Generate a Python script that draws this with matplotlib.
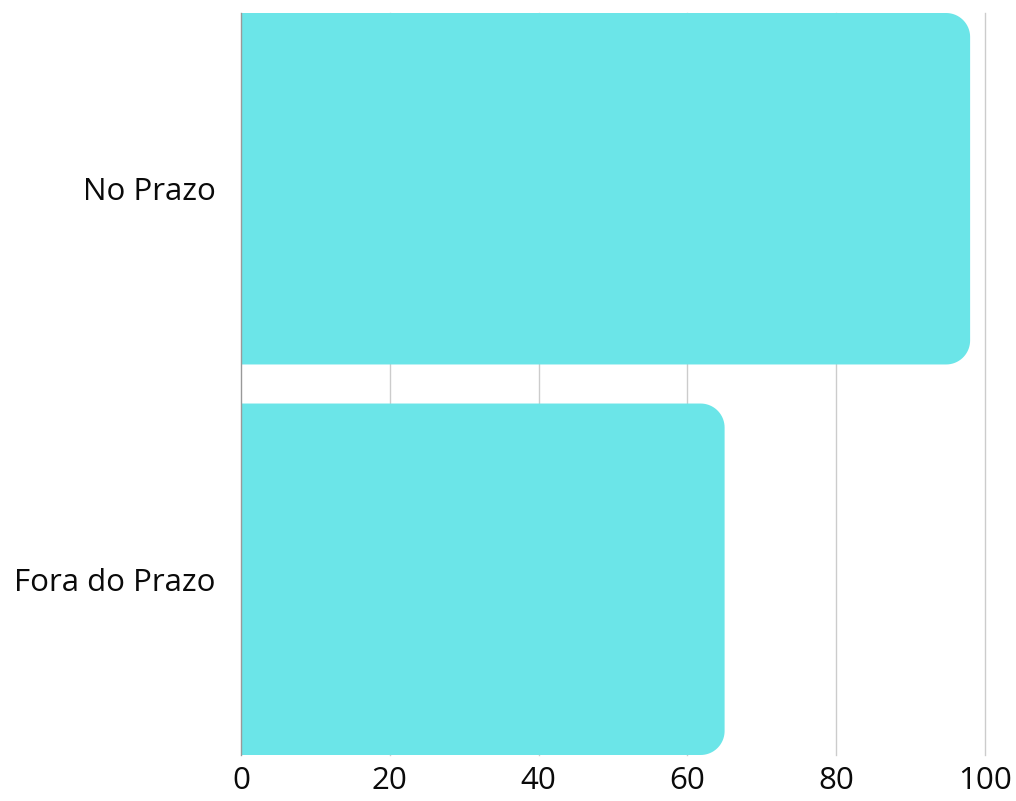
import numpy as np
import matplotlib
matplotlib.use("Agg")
import matplotlib.pyplot as plt
from matplotlib.path import Path
from matplotlib.patches import PathPatch

plt.rcParams['font.family'] = ['Open Sans', 'DejaVu Sans']

categories = ["No Prazo", "Fora do Prazo"]
values = [98, 65]
x_ticks = [0, 20, 40, 60, 80, 100]

bar_color = "#6be5e8"
bar_height = 0.9

fig = plt.figure(figsize=(10.16, 8.01), dpi=100)
W, H = 1016, 801
ax = fig.add_axes([241 / W, 1 - 755 / H, (985 - 241) / W, (755 - 13) / H])

ax.set_xlim(0, 100)
ax.set_ylim(1 + bar_height / 2, -bar_height / 2)

# corner radius in pixels, converted to data units on each axis
radius_px = 24
px_per_x = (985 - 241) / 100.0
px_per_y = (755 - 13) / (1 + bar_height)
rx = radius_px / px_per_x
ry = radius_px / px_per_y


def right_rounded_bar(y_center, length):
    top = y_center - bar_height / 2
    bottom = y_center + bar_height / 2
    r_x = min(rx, length)
    verts = [(0, top), (length - r_x, top)]
    t = np.linspace(-np.pi / 2, 0, 20)
    verts += [(length - r_x + r_x * np.cos(a), top + ry + ry * np.sin(a)) for a in t]
    t = np.linspace(0, np.pi / 2, 20)
    verts += [(length - r_x + r_x * np.cos(a), bottom - ry + ry * np.sin(a)) for a in t]
    verts += [(0, bottom), (0, top)]
    codes = [Path.MOVETO] + [Path.LINETO] * (len(verts) - 2) + [Path.CLOSEPOLY]
    return PathPatch(Path(verts, codes), facecolor=bar_color, edgecolor="none", zorder=2)


for i, v in enumerate(values):
    ax.add_patch(right_rounded_bar(i, v))

ax.set_xticks(x_ticks)
ax.set_xticklabels([str(t) for t in x_ticks])
ax.set_yticks(range(len(categories)))
ax.set_yticklabels(categories)

# vertical gridlines, kept unclipped so the one at the right edge shows
for t in x_ticks[1:]:
    ax.axvline(t, color="#cccccc", linewidth=1, zorder=0, clip_on=False)
ax.axvline(0, color="#999999", linewidth=1, zorder=3, clip_on=False)

for s in ax.spines.values():
    s.set_visible(False)

ax.tick_params(axis="both", length=0, labelsize=22.5, colors="#0a0a0a")
ax.tick_params(axis="x", pad=8)
ax.tick_params(axis="y", pad=18)

fig.savefig("out.png", dpi=100)
